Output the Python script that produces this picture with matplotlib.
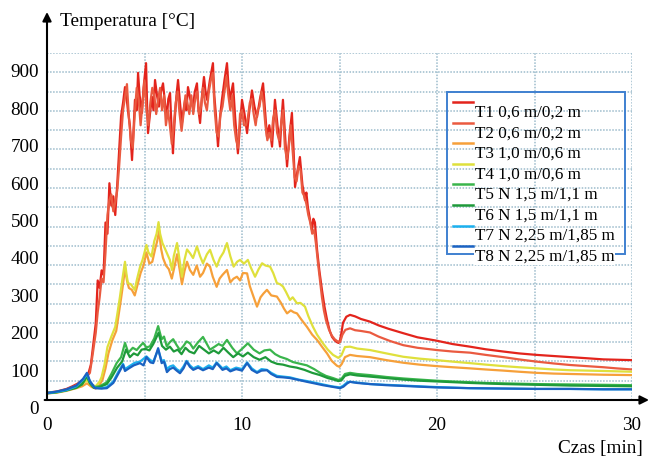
import numpy as np
import matplotlib
matplotlib.use('Agg')
import matplotlib.pyplot as plt
import matplotlib.transforms as mtransforms
from matplotlib.patches import Rectangle
from matplotlib.lines import Line2D

# ---- data (time in min, temperature in degC) ----
t_T1 = [0, 0.5, 1.0, 1.3, 1.6, 1.9, 2.1, 2.25, 2.4, 2.5, 2.6, 2.7, 2.8, 2.9, 3.0, 3.1, 3.2, 3.3, 3.4, 3.5,
        3.6, 3.7, 3.8, 3.9, 4.0, 4.08, 4.15, 4.25, 4.36, 4.45, 4.51, 4.6, 4.67, 4.75, 4.87, 4.95, 5.08, 5.13,
        5.18, 5.28, 5.38, 5.46, 5.54, 5.64, 5.74, 5.85, 5.95, 6.05, 6.15, 6.22, 6.31, 6.38, 6.46, 6.5, 6.56,
        6.64, 6.72, 6.82, 6.92, 7.0, 7.08, 7.15, 7.23, 7.35, 7.49, 7.58, 7.69, 7.77, 7.85, 7.95, 8.05, 8.13,
        8.21, 8.35, 8.51, 8.58, 8.67, 8.72, 8.77, 8.87, 8.97, 9.1, 9.23, 9.3, 9.38, 9.46, 9.54, 9.65, 9.79,
        9.9, 10.0, 10.13, 10.26, 10.38, 10.51, 10.64, 10.77, 10.92, 11.08, 11.18, 11.28, 11.4, 11.54, 11.62,
        11.69, 11.82, 11.95, 12.02, 12.1, 12.2, 12.31, 12.43, 12.56, 12.64, 12.72, 12.85, 12.97, 13.1, 13.23,
        13.3, 13.38, 13.48, 13.59, 13.66, 13.74, 13.8, 13.85, 13.97, 14.1, 14.23, 14.36, 14.5, 14.62, 14.75,
        14.87, 14.95, 15.03, 15.1, 15.18, 15.35, 15.54, 15.8, 16.1, 16.56, 17.0, 17.5, 18.27, 19.0, 19.98,
        20.8, 21.69, 22.5, 23.4, 24.2, 25.11, 26.0, 26.82, 27.7, 28.53, 29.2, 30.0]
T1 = [45, 48, 55, 62, 70, 82, 92, 120, 185, 230, 345, 325, 372, 360, 500, 470, 605, 545, 570, 520,
      600, 690, 785, 820, 862, 835, 800, 760, 667, 760, 828, 800, 900, 840, 793, 860, 926, 820,
      739, 790, 836, 800, 881, 840, 810, 850, 872, 820, 782, 830, 846, 760, 685, 730, 782,
      840, 881, 820, 766, 800, 828, 800, 862, 830, 810, 850, 872, 800, 766, 840, 889, 850,
      828, 880, 926, 840, 782, 740, 704, 780, 828, 880, 926, 870, 828, 850, 872, 780, 685,
      760, 828, 790, 739, 800, 853, 810, 782, 830, 872, 800, 730, 760, 703, 770,
      828, 760, 703, 770, 828, 740, 650, 730, 793, 700, 595, 640, 675, 600, 560,
      580, 540, 510, 480, 510, 500, 460, 427, 370, 320, 275, 240, 210, 194, 185,
      180, 178, 186, 205, 232, 248, 253, 249, 242, 235, 225, 216, 204, 193, 184,
      175, 168, 161, 155, 150, 146, 143, 140, 137, 134, 133, 132]

t_T2 = [0, 0.5, 1.0, 1.4, 1.7, 2.0, 2.2, 2.35, 2.5, 2.6, 2.7, 2.8, 2.9, 3.0, 3.1, 3.2, 3.3, 3.4, 3.5, 3.6,
        3.7, 3.8, 3.9, 4.0, 4.1, 4.2, 4.3, 4.4, 4.5, 4.6, 4.7, 4.8, 4.9, 5.0, 5.1, 5.2, 5.3, 5.4, 5.5, 5.6,
        5.7, 5.8, 5.9, 6.0, 6.1, 6.2, 6.3, 6.4, 6.5, 6.6, 6.7, 6.8, 6.9, 7.0, 7.1, 7.2, 7.3, 7.4, 7.5, 7.6,
        7.7, 7.8, 7.9, 8.0, 8.1, 8.2, 8.3, 8.4, 8.5, 8.6, 8.7, 8.8, 8.9, 9.0, 9.1, 9.2, 9.3, 9.4, 9.5, 9.6,
        9.7, 9.8, 9.9, 10.0, 10.1, 10.2, 10.3, 10.4, 10.5, 10.6, 10.7, 10.8, 10.9, 11.0, 11.1, 11.2, 11.3,
        11.4, 11.5, 11.6, 11.7, 11.8, 11.9, 12.0, 12.1, 12.2, 12.3, 12.4, 12.5, 12.6, 12.7, 12.8, 12.9, 13.0,
        13.1, 13.2, 13.3, 13.4, 13.5, 13.6, 13.7, 13.8, 13.9, 14.0, 14.1, 14.2, 14.3, 14.45, 14.6, 14.75,
        14.9, 15.03, 15.15, 15.3, 15.54, 15.8, 16.1, 16.56, 17.0, 17.6, 18.27, 19.0, 19.98, 20.8, 21.69,
        22.5, 23.4, 24.2, 25.11, 26.0, 26.82, 27.7, 28.53, 29.2, 30.0]
T2 = [44, 47, 53, 62, 72, 85, 98, 150, 205, 260, 300, 350, 340, 420, 520, 560, 575, 530, 555, 585,
      650, 730, 800, 835, 870, 780, 720, 700, 790, 860, 830, 760, 820, 880, 800, 760, 820, 860, 840, 790,
      830, 860, 800, 840, 760, 800, 760, 710, 760, 820, 850, 790, 745, 790, 840, 820, 790, 840, 790, 830,
      850, 790, 810, 860, 820, 800, 850, 880, 900, 800, 740, 730, 790, 810, 850, 890, 840, 800, 840, 760,
      720, 700, 790, 800, 760, 760, 780, 820, 830, 790, 760, 800, 810, 850, 820, 760, 720,
      740, 720, 780, 800, 740, 720, 760, 800, 700, 670, 700, 760, 690, 620, 610, 650, 640,
      580, 570, 550, 520, 500, 470, 480, 440, 390, 345, 300, 265, 240, 215, 198, 188,
      182, 180, 200, 213, 217, 212, 210, 206, 195, 183, 172, 165, 159, 155, 152,
      146, 140, 134, 128, 123, 119, 116, 113, 110, 107]

t_T3 = [0, 0.5, 1.0, 1.5, 1.8, 2.05, 2.3, 2.5, 2.7, 2.85, 3.0, 3.15, 3.35, 3.55, 3.65, 3.78, 3.9, 4.0, 4.1,
        4.2, 4.35, 4.5, 4.65, 4.8, 4.95, 5.1, 5.25, 5.4, 5.55, 5.65, 5.75, 5.85, 5.95, 6.1, 6.25, 6.4, 6.55,
        6.67, 6.8, 6.92, 7.05, 7.18, 7.33, 7.5, 7.68, 7.85, 8.0, 8.2, 8.36, 8.5, 8.7, 8.85, 9.0, 9.23, 9.4,
        9.57, 9.74, 9.9, 10.05, 10.26, 10.4, 10.6, 10.77, 10.95, 11.1, 11.28, 11.5, 11.79, 12.0, 12.15,
        12.31, 12.5, 12.65, 12.82, 13.05, 13.33, 13.6, 13.85, 14.1, 14.36, 14.6, 14.87, 15.0, 15.12, 15.28,
        15.54, 15.9, 16.56, 17.4, 18.27, 19.1, 19.98, 20.8, 21.69, 22.5, 23.4, 24.2, 25.11, 26.0, 26.82,
        27.7, 28.53, 30.0]
T3 = [43, 45, 50, 57, 62, 70, 60, 56, 66, 80, 110, 150, 185, 210, 245, 290, 335, 378, 345,
      325, 320, 305, 335, 365, 385, 420, 390, 395, 430, 450, 478, 430, 405, 385, 375, 350, 385,
      415, 375, 335, 370, 395, 373, 360, 385, 355, 365, 390, 382, 355, 328, 350, 360, 373, 340,
      350, 355, 345, 365, 364, 330, 300, 275, 300, 310, 320, 305, 302, 285, 270,
      257, 265, 260, 257, 240, 221, 200, 186, 168, 150, 130, 117, 114, 122, 140,
      146, 143, 140, 132, 125, 120, 116, 113, 110, 107, 104, 101, 98, 96, 95,
      94, 93, 92]

t_T4 = [0, 0.5, 1.0, 1.5, 1.8, 2.05, 2.3, 2.5, 2.7, 2.8, 2.95, 3.1, 3.3, 3.5, 3.62, 3.74, 3.87, 4.0, 4.08,
        4.15, 4.3, 4.5, 4.6, 4.77, 4.9, 5.1, 5.2, 5.36, 5.5, 5.62, 5.72, 5.8, 5.92, 6.05, 6.15, 6.3, 6.41,
        6.5, 6.67, 6.8, 6.92, 7.05, 7.18, 7.33, 7.49, 7.69, 7.85, 8.0, 8.2, 8.36, 8.54, 8.7, 8.87, 9.05,
        9.23, 9.4, 9.57, 9.75, 9.9, 10.1, 10.3, 10.45, 10.67, 10.85, 11.03, 11.2, 11.44, 11.6, 11.79, 11.95,
        12.1, 12.25, 12.46, 12.6, 12.82, 13.0, 13.23, 13.4, 13.64, 13.85, 14.15, 14.4, 14.67, 14.94, 15.1,
        15.28, 15.54, 15.9, 16.56, 17.4, 18.27, 19.1, 19.98, 20.8, 21.69, 22.5, 23.4, 24.2, 25.11, 26.0,
        26.82, 27.7, 28.53, 30.0]
T4 = [44, 46, 52, 60, 68, 78, 66, 62, 75, 87, 120, 167, 195, 221, 260, 301, 350, 395, 360,
      338, 335, 320, 345, 381, 400, 440, 420, 409, 450, 470, 501, 470, 445, 430, 418, 400, 373,
      410, 445, 400, 355, 400, 428, 418, 405, 436, 410, 391, 415, 427, 400, 382, 405, 420,
      445, 410, 382, 395, 400, 390, 400, 380, 355, 375, 391, 385, 382, 365, 338, 335,
      329, 315, 293, 300, 284, 285, 275, 250, 221, 200, 177, 160, 146, 138, 145,
      167, 168, 163, 159, 150, 141, 136, 132, 128, 124, 120, 116, 113, 110, 107,
      105, 104, 103, 101]

t_T5 = [0, 0.5, 1.0, 1.5, 1.8, 2.05, 2.2, 2.4, 2.7, 3.07, 3.3, 3.57, 3.8, 4.0, 4.17, 4.4, 4.6, 4.78,
        4.93, 5.1, 5.28, 5.5, 5.7, 5.88, 6.0, 6.14, 6.3, 6.47, 6.65, 6.82, 7.0, 7.16, 7.33, 7.5, 7.75,
        8.0, 8.2, 8.36, 8.6, 8.8, 9.0, 9.23, 9.5, 9.74, 10.0, 10.3, 10.6, 10.9, 11.15, 11.44, 11.7,
        11.95, 12.3, 12.6, 13.0, 13.33, 13.7, 14.0, 14.3, 14.67, 14.94, 15.1, 15.28, 15.54, 15.9,
        16.56, 17.4, 18.27, 19.1, 19.98, 20.8, 21.69, 22.5, 23.4, 24.2, 25.11, 26.82, 28.53, 30.0]
T5 = [44, 47, 52, 60, 70, 92, 72, 60, 62, 73, 95, 124, 140, 178, 152, 165, 159, 170,
      178, 166, 169, 190, 223, 188, 195, 169, 180, 188, 172, 159, 170, 182, 177, 163, 180,
      194, 175, 160, 168, 175, 170, 186, 165, 150, 162, 177, 160, 150, 158, 160, 148,
      141, 135, 127, 122, 118, 108, 98, 90, 84, 79, 82, 95, 98, 95,
      92, 87, 83, 80, 77, 75, 73, 71, 70, 69, 68, 67, 66, 65]

t_T6 = [0, 0.5, 1.0, 1.5, 1.8, 2.05, 2.2, 2.4, 2.7, 3.07, 3.3, 3.6, 3.85, 4.05, 4.25, 4.45, 4.65,
        4.85, 5.05, 5.25, 5.45, 5.72, 5.9, 6.1, 6.3, 6.5, 6.7, 6.9, 7.1, 7.3, 7.55, 7.8, 8.05, 8.3,
        8.55, 8.8, 9.05, 9.3, 9.55, 9.8, 10.05, 10.3, 10.6, 10.9, 11.2, 11.5, 11.8, 12.1, 12.45,
        12.8, 13.2, 13.6, 14.0, 14.4, 14.7, 14.94, 15.1, 15.28, 15.54, 15.9, 16.56, 17.4, 18.27,
        19.1, 19.98, 21.69, 23.4, 25.11, 26.82, 28.53, 30.0]
T6 = [43, 46, 51, 58, 67, 88, 70, 58, 60, 68, 85, 112, 128, 160, 140, 150, 145, 160,
      162, 158, 175, 205, 170, 160, 168, 155, 160, 148, 165, 155, 150, 170, 160, 150,
      158, 150, 165, 152, 140, 150, 142, 152, 140, 133, 140, 128, 122, 120, 115,
      112, 106, 98, 92, 84, 80, 76, 78, 90, 94, 91, 88, 84, 80,
      77, 75, 71, 68, 66, 64, 63, 62]

t_T7 = [0, 0.5, 1.0, 1.5, 1.85, 2.05, 2.2, 2.46, 2.8, 3.07, 3.4, 3.65, 3.9, 4.0, 4.2, 4.5, 4.77, 5.1,
        5.3, 5.45, 5.7, 5.88, 6.0, 6.15, 6.3, 6.47, 6.65, 6.82, 7.0, 7.16, 7.33, 7.5, 7.75, 8.0, 8.3,
        8.5, 8.7, 9.0, 9.2, 9.4, 9.7, 10.0, 10.26, 10.5, 10.77, 11.0, 11.28, 11.5, 11.79, 12.1, 12.46,
        12.9, 13.33, 13.7, 14.15, 14.6, 15.03, 15.2, 15.4, 15.54, 15.9, 16.56, 17.4, 18.27, 19.1,
        19.98, 21.69, 23.4, 25.11, 26.82, 28.53, 30.0]
T7 = [44, 47, 52, 62, 80, 95, 75, 58, 57, 60, 75, 100, 122, 108, 115, 125, 128, 142,
      132, 128, 160, 130, 132, 108, 115, 118, 108, 102, 115, 130, 118, 110, 116, 108, 118,
      112, 126, 110, 115, 105, 112, 108, 126, 110, 100, 108, 106, 98, 90, 88, 86,
      80, 76, 72, 67, 62, 59, 64, 73, 74, 72, 68, 66, 64, 62,
      60, 57, 56, 55, 55, 54, 54]

t_T8 = [0, 0.5, 1.0, 1.5, 1.85, 2.05, 2.2, 2.46, 2.8, 3.07, 3.4, 3.65, 3.9, 4.0, 4.2, 4.45, 4.77, 4.95,
        5.1, 5.3, 5.45, 5.7, 5.88, 6.0, 6.15, 6.3, 6.47, 6.65, 6.82, 7.0, 7.16, 7.33, 7.5, 7.75, 8.0,
        8.3, 8.5, 8.7, 9.0, 9.2, 9.4, 9.7, 10.0, 10.26, 10.5, 10.77, 11.0, 11.28, 11.5, 11.79, 12.1,
        12.46, 12.9, 13.33, 13.7, 14.15, 14.6, 15.03, 15.2, 15.4, 15.54, 15.9, 16.56, 17.4, 18.27,
        19.1, 19.98, 21.69, 23.4, 25.11, 26.82, 28.53, 30.0]
T8 = [44, 48, 54, 64, 82, 98, 76, 57, 56, 57, 71, 95, 119, 103, 110, 118, 124, 118,
      140, 126, 124, 164, 124, 128, 100, 108, 112, 104, 97, 110, 128, 114, 106, 112, 105,
      112, 108, 124, 106, 110, 102, 108, 104, 124, 106, 98, 104, 105, 95, 87, 86,
      84, 79, 74, 70, 65, 61, 57, 61, 70, 74, 71, 68, 65, 63,
      61, 59, 57, 56, 55, 55, 54, 54]

labels = ['T1 0,6 m/0,2 m', 'T2 0,6 m/0,2 m', 'T3 1,0 m/0,6 m', 'T4 1,0 m/0,6 m',
          'T5 N 1,5 m/1,1 m', 'T6 N 1,5 m/1,1 m', 'T7 N 2,25 m/1,85 m', 'T8 N 2,25 m/1,85 m']
colors = ['#e3241c', '#ea5a40', '#f6a03a', '#dfe03c', '#3ab54c', '#1e9a3a', '#1cb0ee', '#1a62c2']
y_ticks = [0, 100, 200, 300, 400, 500, 600, 700, 800, 900]
x_ticks = [0, 10, 20, 30]

series = [(t_T1, T1), (t_T2, T2), (t_T3, T3), (t_T4, T4),
          (t_T5, T5), (t_T6, T6), (t_T7, T7), (t_T8, T8)]

plt.rcParams['font.family'] = ['Liberation Serif', 'DejaVu Serif']

W, H = 649, 458
fig = plt.figure(figsize=(W / 100, H / 100), dpi=100)
ax = fig.add_axes([47 / W, 1 - 400 / H, 585 / W, 347 / H])

y_lo, y_hi = 25.4, 953.2
ax.set_xlim(0, 30)
ax.set_ylim(y_lo, y_hi)

# grid: 18 horizontal bands, vertical every 5 min
ax.set_yticks(np.linspace(y_lo, y_hi, 19))
ax.set_xticks([5, 10, 15, 20, 25, 30])
ax.tick_params(length=0, labelleft=False, labelbottom=False)
ax.grid(True, color='#9dbccc', linestyle=(0, (1, 1)), linewidth=1.1)
ax.set_axisbelow(True)
for s in ax.spines.values():
    s.set_visible(False)

for (tt, vv), c in zip(series, colors):
    ax.plot(tt, vv, color=c, lw=1.6, solid_joinstyle='round')

# axis arrows
arrow = dict(arrowstyle='-|>', color='black', lw=1.5, mutation_scale=13, shrinkA=0, shrinkB=0)
ax.annotate('', xy=(0, (400 - 12) / 347), xytext=(0, 0), xycoords='axes fraction',
            arrowprops=arrow, annotation_clip=False)
ax.annotate('', xy=((649 - 47) / 585, 0), xytext=(-0.004, 0), xycoords='axes fraction',
            arrowprops=arrow, annotation_clip=False)

# tick labels (the labels sit a bit below the grid in the original)
ylab_tr = mtransforms.offset_copy(mtransforms.blended_transform_factory(ax.transAxes, ax.transData),
                                  fig=fig, x=-8, y=0, units='dots')
for v in y_ticks:
    ax.text(0, v, str(v), transform=ylab_tr, ha='right', va='center', fontsize=13.8)
xlab_tr = mtransforms.offset_copy(mtransforms.blended_transform_factory(ax.transData, ax.transAxes),
                                  fig=fig, x=0, y=-25, units='dots')
for v in x_ticks:
    ax.text(v, 0, str(v), transform=xlab_tr, ha='center', va='center', fontsize=13.8)

fig.text(60 / W, 1 - 22 / H, 'Temperatura [°C]', ha='left', va='center', fontsize=13.9)
fig.text(643 / W, 1 - 449 / H, 'Czas [min]', ha='right', va='center', fontsize=13.9)

# legend box (handles sit above their labels, as in the original)
fig.add_artist(Rectangle((447 / W, 1 - 254 / H), (625 - 447) / W, (254 - 92) / H,
                         transform=fig.transFigure, fill=False, edgecolor='#3f80d0', lw=1.4))
for i, (lab, c) in enumerate(zip(labels, colors)):
    hy = 1 - (102 + i * 20.6) / H
    fig.add_artist(Line2D([453 / W, 473 / W], [hy, hy], transform=fig.transFigure, color=c, lw=1.8))
    ty = 1 - (113 + i * 20.5) / H
    bbox = dict(facecolor='white', edgecolor='none', pad=0.5) if i == len(labels) - 1 else None
    fig.text(475 / W, ty, lab, ha='left', va='center', fontsize=12.3, bbox=bbox)

fig.savefig('out.png', dpi=100)
